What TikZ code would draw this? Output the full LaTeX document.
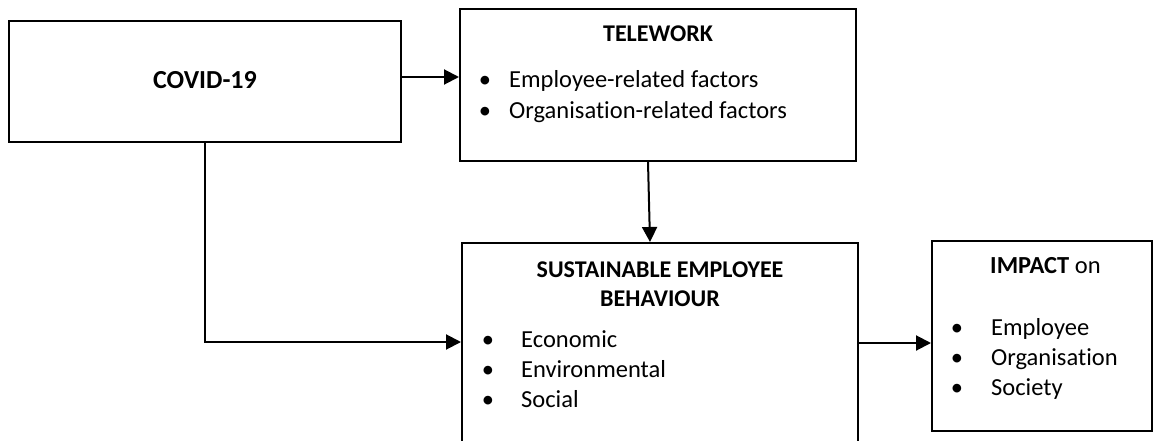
\documentclass[tikz,border=0pt]{standalone}
\usepackage{fontspec}
\setmainfont{Carlito}[Ligatures=NoCommon]
\usetikzlibrary{arrows.meta}
\tikzset{
  boxnode/.style={draw=black, line width=2pt, fill=none, inner sep=0pt},
  arr/.style={line width=2pt, -{Triangle[length=15pt,width=15pt]}},
  txt/.style={inner sep=0pt, font=\fontsize{24.5}{28}\selectfont},
  bold/.style={inner sep=0pt, font=\fontsize{24}{28}\selectfont\bfseries},
}
\begin{document}
\begin{tikzpicture}[x=1pt,y=-1pt]
\useasboundingbox[fill=white] (0,0) rectangle (1155,441);
% boxes
\node[boxnode, minimum width=392pt, minimum height=121pt] (covid) at (205,81.5) {};
\node[boxnode, minimum width=396pt, minimum height=152pt] (tele) at (658,85) {};
\node[boxnode, minimum width=396pt, minimum height=227pt] (seb) at (660,356.5) {};
\node[boxnode, minimum width=220pt, minimum height=190pt] (impact) at (1042,336) {};
% texts
\node[bold, font=\fontsize{26}{30}\selectfont\bfseries, anchor=base] (tcovid) at (205,89) {COVID-19};
\node[bold, anchor=base] (ttele) at (658,42) {TELEWORK};
\node[txt, anchor=base] (b1) at (485,88) {\textbullet};
\node[txt, anchor=base west] (t1) at (509,88) {Employee-related factors};
\node[txt, anchor=base] (b2) at (485,118) {\textbullet};
\node[txt, anchor=base west] (t2) at (509,118) {Organisation-related factors};
\node[bold, anchor=base] (tseb1) at (660,277) {SUSTAINABLE EMPLOYEE};
\node[bold, anchor=base] (tseb2) at (660,306) {BEHAVIOUR};
\node[txt, anchor=base] (b3) at (488,347) {\textbullet};
\node[txt, anchor=base west] (t3) at (521,347) {Economic};
\node[txt, anchor=base] (b4) at (488,377) {\textbullet};
\node[txt, anchor=base west] (t4) at (521,377) {Environmental};
\node[txt, anchor=base] (b5) at (488,407) {\textbullet};
\node[txt, anchor=base west] (t5) at (521,407) {Social};
\node[txt, anchor=base west] (timp) at (990,273) {\textbf{IMPACT} on};
\node[txt, anchor=base] (b6) at (957,335) {\textbullet};
\node[txt, anchor=base west] (t6) at (991,335) {Employee};
\node[txt, anchor=base] (b7) at (957,365) {\textbullet};
\node[txt, anchor=base west] (t7) at (991,365) {Organisation};
\node[txt, anchor=base] (b8) at (957,395) {\textbullet};
\node[txt, anchor=base west] (t8) at (991,395) {Society};
% connectors
\draw[arr] ([yshift=4.5pt]covid.east) -- ([yshift=4.5pt]covid.east -| tele.west);
\draw[arr] (covid.south) |- ([yshift=14.5pt]seb.west);
\draw[arr] ([xshift=-10pt]tele.south) -- ([xshift=-10pt]seb.north);
\draw[arr] ([yshift=13.5pt]seb.east) -- ([yshift=13.5pt]seb.east -| impact.west);
\end{tikzpicture}
\end{document}
